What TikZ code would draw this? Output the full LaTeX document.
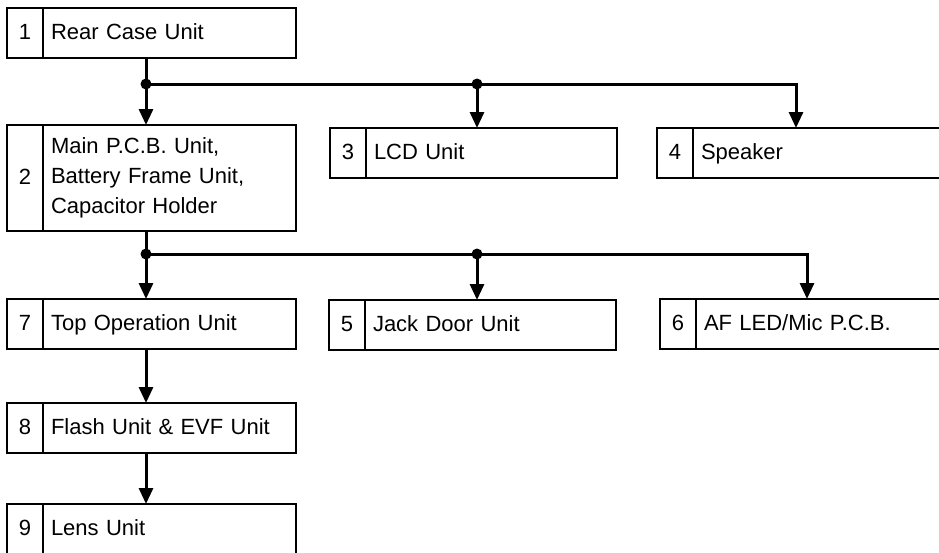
\documentclass[tikz,border=0pt]{standalone}
\usepackage{fontspec}
\setmainfont{Liberation Sans}
\usetikzlibrary{positioning,arrows.meta}

\begin{document}
\begin{tikzpicture}
[x=1pt, y=-1pt,
 every node/.style={inner sep=0pt, outer sep=0pt, font=\fontsize{22}{30}\selectfont},
 numcell/.style={rectangle, draw=black, line width=2.5pt, minimum width=36pt, minimum height=50pt, text height=16pt, text depth=4pt, anchor=north west},
 namecell/.style={rectangle, draw=black, line width=2.5pt, minimum height=50pt, inner xsep=8pt, text width=#1, align=left},
 oneline/.style={text height=16pt, text depth=4pt},
 link/.style={line width=3pt, draw=black, line join=miter},
 tip/.style={link, -{Triangle[width=14pt,length=16pt]}},
 joint/.style={circle, fill=black, minimum size=11pt}]
\useasboundingbox (0,0) rectangle (939,552);
\clip (0,0) rectangle (939,552);
% units
\node (n1) [numcell] at (7,8) {1};
\node (t1) [namecell=237pt, oneline, right=0pt of n1] {Rear Case Unit};
\node (n2) [numcell, minimum height=106pt] at (7,125) {2};
\node (t2) [namecell=237pt, minimum height=106pt, right=0pt of n2] {Main P.C.B. Unit,\\Battery Frame Unit,\\Capacitor Holder};
\node (n3) [numcell] at (330,128) {3};
\node (t3) [namecell=235pt, oneline, right=0pt of n3] {LCD Unit};
\node (n4) [numcell] at (657,128) {4};
\node (t4) [namecell=237pt, oneline, right=0pt of n4] {Speaker};
\node (n7) [numcell] at (7,299) {7};
\node (t7) [namecell=237pt, oneline, right=0pt of n7] {Top Operation Unit};
\node (n5) [numcell] at (329,300) {5};
\node (t5) [namecell=235pt, oneline, right=0pt of n5] {Jack Door Unit};
\node (n6) [numcell] at (660,299) {6};
\node (t6) [namecell=237pt, oneline, right=0pt of n6] {AF LED/Mic P.C.B.};
\node (n8) [numcell] at (7,403) {8};
\node (t8) [namecell=237pt, oneline, right=0pt of n8] {Flash Unit \& EVF Unit};
\node (n9) [numcell] at (7,504) {9};
\node (t9) [namecell=237pt, oneline, right=0pt of n9] {Lens Unit};
% branch points
\coordinate (j1) at (146,84);
\coordinate (j2) at (477,84);
\coordinate (j3) at (796,84);
\coordinate (j4) at (146,254);
\coordinate (j5) at (477,254);
\coordinate (j6) at (807,254);
% connectors
\draw [tip] (j1 |- t1.south) -- (j1 |- t2.north);
\draw [tip] (j1) -- (j3) -- (j3 |- t4.north);
\draw [tip] (j2) -- (j2 |- t3.north);
\draw [tip] (j4 |- t2.south) -- (j4 |- t7.north);
\draw [tip] (j4) -- (j6) -- (j6 |- t6.north);
\draw [tip] (j5) -- (j5 |- t5.north);
\draw [tip] (j4 |- t7.south) -- (j4 |- t8.north);
\draw [tip] (j4 |- t8.south) -- (j4 |- t9.north);
\node (d1) [joint] at (j1) {};
\node (d2) [joint] at (j2) {};
\node (d4) [joint] at (j4) {};
\node (d5) [joint] at (j5) {};
\end{tikzpicture}
\end{document}
